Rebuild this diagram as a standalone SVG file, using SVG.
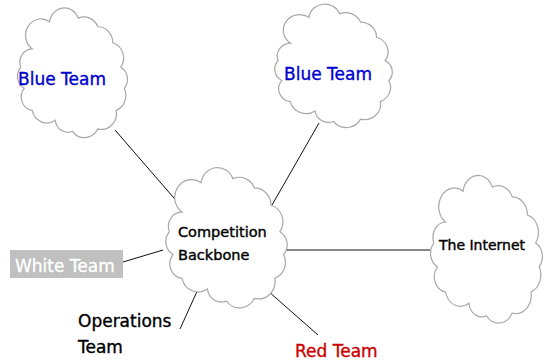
<svg xmlns="http://www.w3.org/2000/svg" width="547" height="360" viewBox="0 0 547 360">
<style>
.cloud{fill:#fff;stroke:#a8a8a8;stroke-width:1.2}
.lbl{font-family:"DejaVu Sans",sans-serif;font-size:17px;stroke-width:0.35px}
.small{font-family:"DejaVu Sans",sans-serif;font-size:14.5px;fill:#000;stroke:#000;stroke-width:0.4px}
.conn line{stroke:#111;stroke-width:1}
</style>
<defs>
<path id="cloudShape" vector-effect="non-scaling-stroke" d="M15,30 A13,13 0 0 1 30,8 A13,13 0 0 1 55,5 A13,13 0 0 1 72,12 A13,13 0 0 1 85,25 A13,13 0 0 1 92,45 A11,11 0 0 1 95,62 A13,13 0 0 1 88,80 A13,13 0 0 1 72,95 A13,13 0 0 1 50,97 A11,11 0 0 1 35,88 A13,13 0 0 1 15,80 A11,11 0 0 1 8,62 A11,11 0 0 1 5,45 A11,11 0 0 1 15,30 Z"/>
</defs>
<rect width="547" height="360" fill="#fff"/>
<g id="connectors" class="conn">
<line x1="115" y1="130" x2="180" y2="205"/>
<line x1="319" y1="123" x2="268" y2="212"/>
<line x1="275" y1="250" x2="430" y2="250"/>
<line x1="123" y1="262" x2="163" y2="250"/>
<line x1="180" y1="329" x2="199" y2="287"/>
<line x1="268" y1="291" x2="318" y2="335"/>
</g>
<g id="blue1">
<use href="#cloudShape" class="cloud" transform="translate(15,12) scale(1.15,1.23)"/>
<text class="lbl" x="18" y="85" fill="#0000cc" stroke="#0000cc">Blue Team</text>
</g>
<g id="blue2">
<use href="#cloudShape" class="cloud" transform="translate(272,8) scale(1.23,1.17)"/>
<text class="lbl" x="284" y="80" fill="#0000cc" stroke="#0000cc">Blue Team</text>
</g>
<g id="backbone">
<use href="#cloudShape" class="cloud" transform="translate(163,172) scale(1.27,1.33)"/>
<text class="small" x="178" y="237">Competition</text>
<text class="small" x="178" y="260">Backbone</text>
</g>
<g id="internet">
<use href="#cloudShape" class="cloud" transform="translate(428,180) scale(1.17,1.4)"/>
<text class="small" x="439" y="250" style="font-size:14px">The Internet</text>
</g>
<g id="white">
<rect x="10" y="250" width="113" height="28" fill="#c0c0c0"/>
<text class="lbl" x="15" y="272" fill="#fff" stroke="#fff">White Team</text>
</g>
<g id="operations">
<text class="lbl" x="78" y="327" fill="#000" stroke="#000">Operations</text>
<text class="lbl" x="78" y="353" fill="#000" stroke="#000">Team</text>
</g>
<g id="red">
<text class="lbl" x="295" y="357" fill="#cc0000" stroke="#cc0000">Red Team</text>
</g>
</svg>
